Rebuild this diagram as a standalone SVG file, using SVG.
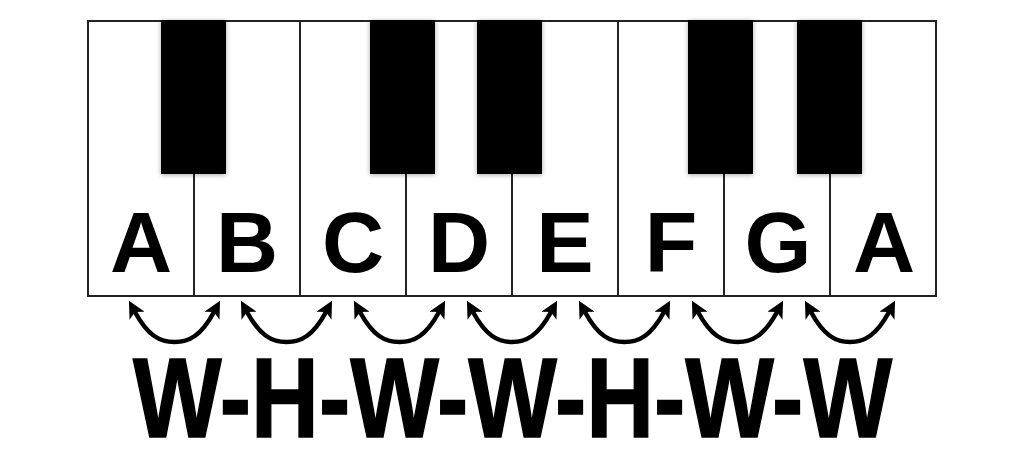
<svg xmlns="http://www.w3.org/2000/svg" width="1024" height="474" viewBox="0 0 1024 474">
  <style>
    .white { fill: #ffffff; stroke: #222222; stroke-width: 2; }
    .black { fill: #000000; }
    .note { font-family: "Liberation Sans", Arial, sans-serif; font-weight: bold; font-size: 86px; fill: #000; text-anchor: middle; }
    .steps { font-family: "Liberation Sans", Arial, sans-serif; font-weight: bold; font-size: 114px; fill: #000; stroke: #000; stroke-width: 1.5; }
    .arc { fill: none; stroke: #000; stroke-width: 4.5; marker-start: url(#head); marker-end: url(#head); }
  </style>
  <defs>
    <marker id="head" viewBox="0 0 12 12" refX="3" refY="6" markerWidth="17" markerHeight="17" markerUnits="userSpaceOnUse" orient="auto-start-reverse">
      <path d="M0,0 L12,6 L0,12 L3,6 z" fill="#000"/>
    </marker>
    <filter id="shadow" x="-20%" y="-10%" width="140%" height="125%">
      <feGaussianBlur in="SourceAlpha" stdDeviation="2.5"/>
      <feOffset dx="0" dy="1" result="b"/>
      <feComponentTransfer><feFuncA type="linear" slope="0.35"/></feComponentTransfer>
      <feMerge><feMergeNode/><feMergeNode in="SourceGraphic"/></feMerge>
    </filter>
  </defs>
  <rect width="1024" height="474" fill="#ffffff"/>

  <g id="keyboard">
    <g id="key-A1"><rect class="white" x="88" y="21" width="106" height="275"/><text class="note" x="141" y="272">A</text></g>
    <g id="key-B"><rect class="white" x="194" y="21" width="106" height="275"/><text class="note" x="247" y="272">B</text></g>
    <g id="key-C"><rect class="white" x="300" y="21" width="106" height="275"/><text class="note" x="353" y="272">C</text></g>
    <g id="key-D"><rect class="white" x="406" y="21" width="106" height="275"/><text class="note" x="459" y="272">D</text></g>
    <g id="key-E"><rect class="white" x="512" y="21" width="106" height="275"/><text class="note" x="565" y="272">E</text></g>
    <g id="key-F"><rect class="white" x="618" y="21" width="106" height="275"/><text class="note" x="671" y="272">F</text></g>
    <g id="key-G"><rect class="white" x="724" y="21" width="106" height="275"/><text class="note" x="778" y="272">G</text></g>
    <g id="key-A2"><rect class="white" x="830" y="21" width="106" height="275"/><text class="note" x="884" y="272">A</text></g>

    <g id="black-keys" filter="url(#shadow)">
      <rect class="black" x="161" y="20" width="65" height="154"/>
      <rect class="black" x="370" y="20" width="65" height="154"/>
      <rect class="black" x="477" y="20" width="65" height="154"/>
      <rect class="black" x="688" y="20" width="65" height="154"/>
      <rect class="black" x="797" y="20" width="65" height="154"/>
    </g>
  </g>

  <g id="connectors">
    <path class="arc" d="M135,312 C148,336 160,342 174.5,342 C189,342 201,336 214,312"/>
    <path class="arc" d="M247,312 C260,336 272,342 286.5,342 C301,342 313,336 326,312"/>
    <path class="arc" d="M360,312 C373,336 385,342 399.5,342 C414,342 426,336 439,312"/>
    <path class="arc" d="M473,312 C486,336 498,342 512,342 C526,342 538,336 551,312"/>
    <path class="arc" d="M585,312 C598,336 610,342 624.5,342 C639,342 651,336 664,312"/>
    <path class="arc" d="M698,312 C711,336 723,342 737.5,342 C752,342 764,336 777,312"/>
    <path class="arc" d="M811,312 C824,336 836,342 850,342 C864,342 876,336 889,312"/>
  </g>

  <g id="steps-label">
    <text class="steps" transform="translate(133,437) scale(0.824,1)" x="0" y="0">W-H-W-W-H-W-W</text>
  </g>
</svg>
